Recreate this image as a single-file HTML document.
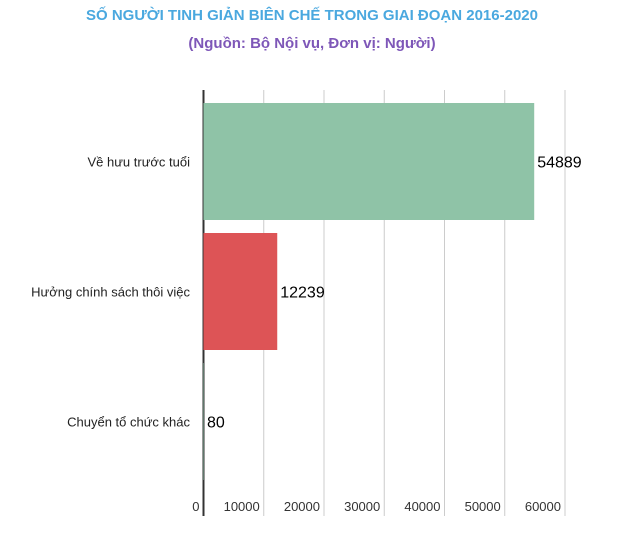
<!DOCTYPE html>
<html><head><meta charset="utf-8"><style>
body{margin:0;background:#fff;font-family:"Liberation Sans",sans-serif}
</style></head><body>
<svg id="c" width="620" height="532" xmlns="http://www.w3.org/2000/svg">
<text x="312" y="20" text-anchor="middle" font-size="15" font-weight="bold" fill="#4aa8df">SỐ NGƯỜI TINH GIẢN BIÊN CHẾ TRONG GIAI ĐOẠN 2016-2020</text>
<text x="312" y="48" text-anchor="middle" font-size="15" font-weight="bold" fill="#7e57b8">(Nguồn: Bộ Nội vụ, Đơn vị: Người)</text>
<g id="grid"></g><g id="bars"></g><g id="labels"></g>
</svg>
<script>
const categories=["Về hưu trước tuổi","Hưởng chính sách thôi việc","Chuyển tổ chức khác"];
const values=[54889,12239,80];
const colors=["#8fc3a7","#dd5456","#8fc3a7"];
const ticks=[0,10000,20000,30000,40000,50000,60000];
const tickLabels=["0","10000","20000","30000","40000","50000","60000"];
const NS="http://www.w3.org/2000/svg";
const x0=203.5,x1=565,xmax=60000,plotTop=90,plotBottom=516,bandTop=97,band=130,barH=117;
const xs=v=>x0+(x1-x0)*v/xmax;
function mk(t,a,p){const e=document.createElementNS(NS,t);for(const k in a)e.setAttribute(k,a[k]);p.appendChild(e);return e;}
const g=document.getElementById('grid'),b=document.getElementById('bars'),l=document.getElementById('labels');
ticks.forEach((t,i)=>{
 if(i>0){const ln=mk('line',{x1:xs(t),x2:xs(t),y1:plotTop,y2:plotBottom,stroke:'#cccccc','stroke-width':1},g);
 
 }
 const tx=mk('text',{x:xs(t)-4,y:511,'text-anchor':'end','font-size':13,fill:'#333'},l);
 tx.textContent=tickLabels[i];
 
 
});
categories.forEach((c,i)=>{
 const y=bandTop+i*band+6;
 const r=mk('rect',{x:x0,y:y,width:Math.max(xs(values[i])-x0,0),height:barH,fill:colors[i]},b);
 
 
 const cy=y+barH/2+5;
 const ct=mk('text',{x:190,y:cy,'text-anchor':'end','font-size':13,fill:'#222'},l);
 ct.textContent=c;
 
 
 const vt=mk('text',{x:xs(values[i])+3,y:cy+1,'font-size':16,fill:'#000'},l);
 vt.textContent=values[i];
 
 
});
const ax=mk('line',{x1:x0,x2:x0,y1:plotTop,y2:plotBottom,stroke:'#333','stroke-width':2},g);


</script>
</body></html>
